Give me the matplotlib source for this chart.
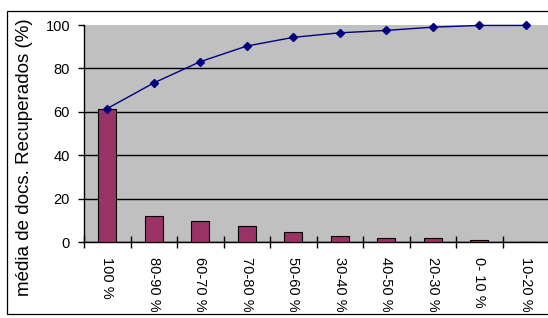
import matplotlib
matplotlib.use("Agg")
import matplotlib.pyplot as plt
from matplotlib.patches import Rectangle

plt.rcParams['font.family'] = ['Liberation Sans', 'DejaVu Sans']

categories = ["100 %", "80-90 %", "60-70 %", "70-80 %", "50-60 %",
              "30-40 %", "40-50 %", "20-30 %", "0- 10 %", "10-20 %"]
bar_values = [61.5, 11.8, 9.8, 7.3, 4.4, 2.8, 1.9, 1.9, 0.7, 0.0]
line_values = [61.5, 73.3, 83.1, 90.3, 94.3, 96.4, 97.5, 99.0, 99.8, 99.8]
y_ticks = [0, 20, 40, 60, 80, 100]
y_label = "média de docs. Recuperados (%)"

W, H = 548, 318
fig = plt.figure(figsize=(W / 100, H / 100), dpi=100)
fig.patch.set_facecolor("white")

# outer chart frame
fig.patches.append(Rectangle((7 / W, 4 / H), 1.0, (H - 11 - 4) / H,
                             transform=fig.transFigure, fill=False,
                             edgecolor="black", linewidth=0.9))

left, right, top, bottom = 84, 549, 25, 242
ax = fig.add_axes([left / W, (H - bottom) / H, (right - left) / W, (bottom - top) / H])
ax.set_facecolor("#C0C0C0")

x = list(range(len(categories)))
ax.bar(x, bar_values, width=0.39, color="#993366", edgecolor="black",
       linewidth=0.8, zorder=3)
ax.plot(x, line_values, color="#000080", linewidth=1.0, marker="D",
        markersize=4.5, markerfacecolor="#000080", markeredgecolor="#000080",
        zorder=4, clip_on=False)

ax.set_xlim(-0.5, len(categories) - 0.5)
ax.set_ylim(0, 100)
ax.set_yticks(y_ticks)
ax.set_yticklabels([str(v) for v in y_ticks], fontsize=10.5)
ax.yaxis.grid(True, color="black", linewidth=1.0, zorder=1)
ax.set_axisbelow(True)
ax.get_ygridlines()[-1].set_visible(False)

ax.set_xticks(x)
ax.set_xticklabels(categories, rotation=270, fontsize=10.5, va="top", ha="center")
ax.set_xticks([i - 0.5 for i in range(len(categories) + 1)], minor=True)
ax.tick_params(axis="x", which="major", length=0, pad=11)
ax.tick_params(axis="x", which="minor", direction="inout", length=9, width=1.0)
ax.tick_params(axis="y", direction="out", length=4, width=1.0, pad=6)

for s in ["top", "right"]:
    ax.spines[s].set_visible(False)
ax.spines["left"].set_linewidth(1.0)
ax.spines["bottom"].set_linewidth(1.0)

fig.text(25 / W, 1 - 157 / H, y_label, rotation=90, fontsize=13.5,
         ha="center", va="center")

fig.savefig("out.png", dpi=100, facecolor="white")
